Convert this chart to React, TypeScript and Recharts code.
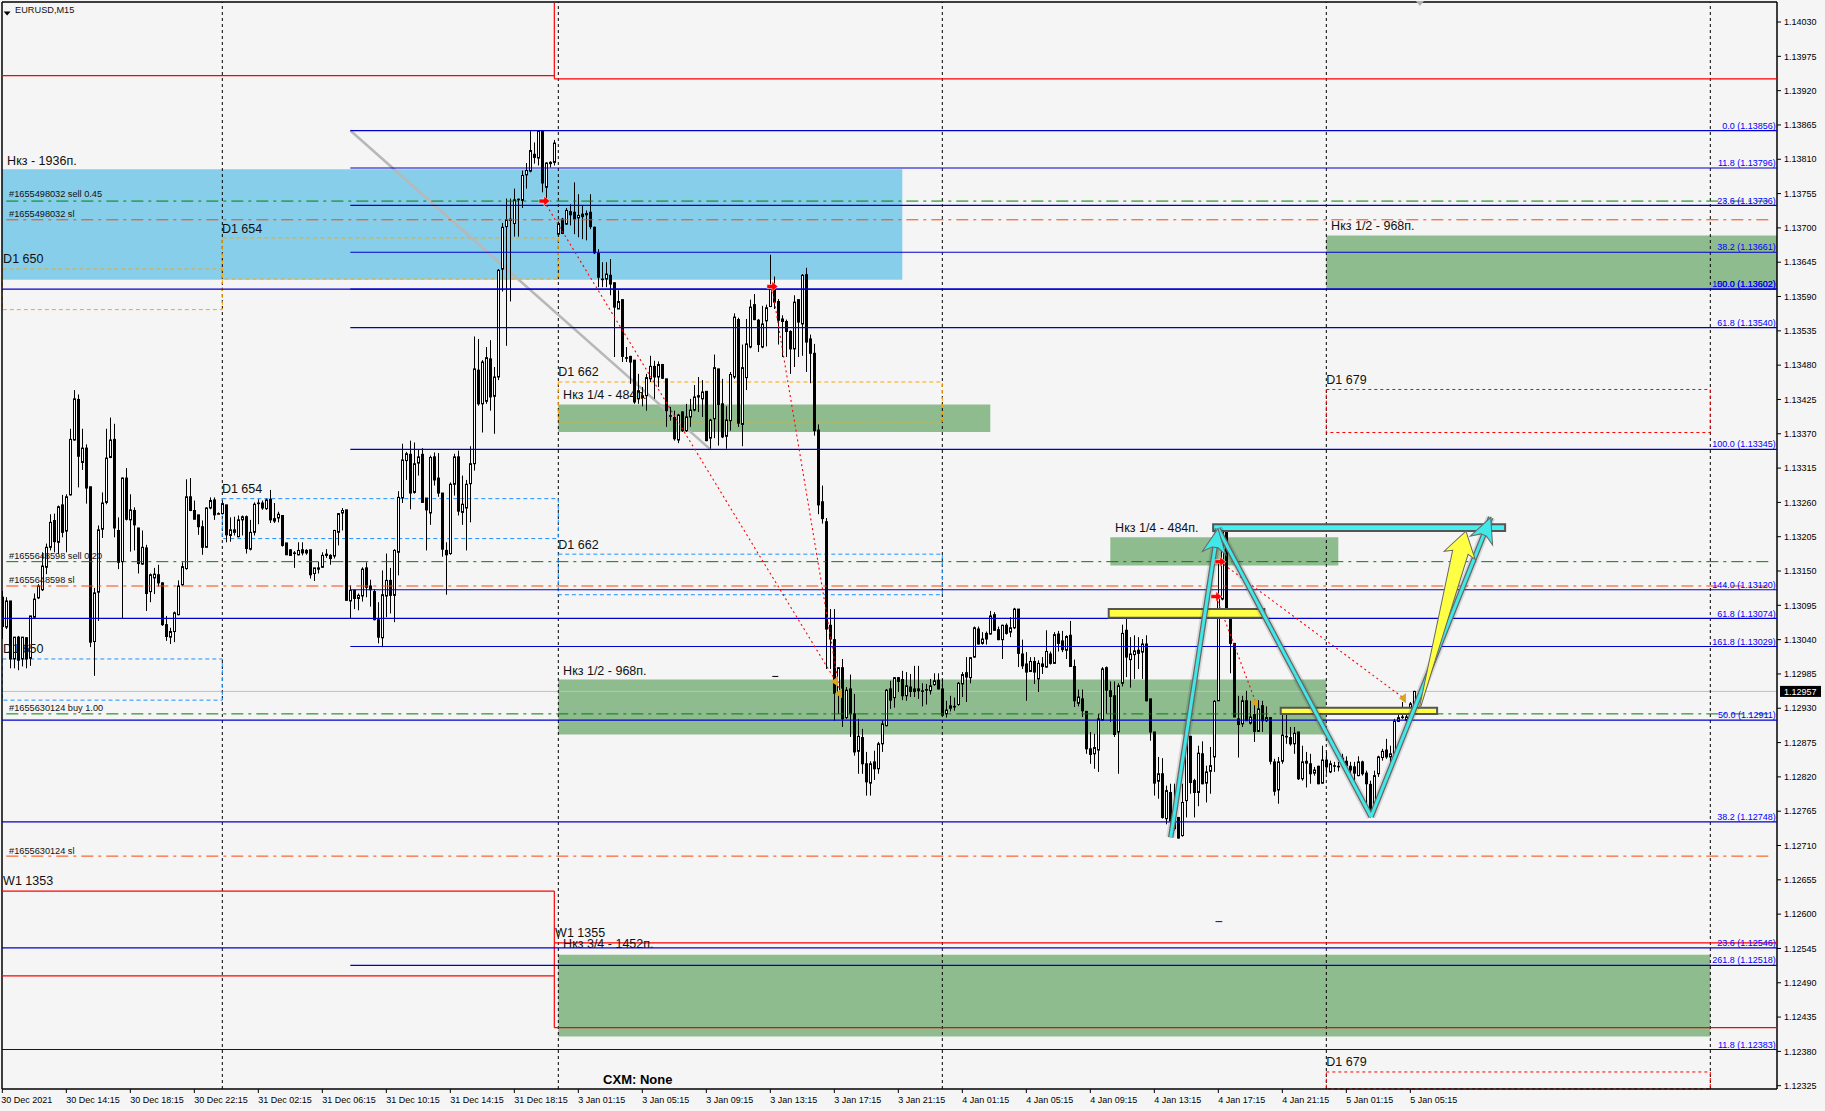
import React from "react";
import { Bar, ComposedChart, ReferenceArea, ReferenceDot, ReferenceLine, XAxis, YAxis } from "recharts";

// EURUSD M15 candles, points above 1.12000
const opens = [
  1108,1060,1102,1009,1044,1009,1043,1010,1076,1107, 1120,1156,1188,1231,1196,1256,1214,1272,1360,1425,
  1324,1347,1285,1037,1116,1217,1260,1332,1361,1215, 1165,1299,1232,1247,1219,1161,1187,1117,1139,1144,
  1131,1064,1044,1053,1080,1128,1154,1269,1247,1240, 1221,1188,1251,1264,1242,1242,1256,1207,1212,1205,
  1232,1237,1185,1212,1258,1259,1250,1265,1230,1235, 1239,1195,1184,1179,1176,1184,1183,1184,1146,1155,
  1156,1177,1175,1174,1212,1243,1248,1102,1119,1106, 1110,1155,1126,1117,1072,1043,1110,1135,1111,1180,
  1267,1327,1337,1276,1323,1337,1267,1243,1333,1299, 1275,1183,1178,1289,1333,1244,1251,1290,1322,1472,
  1418,1422,1490,1430,1461,1634,1702,1712,1707,1746, 1744,1785,1791,1818,1812,1855,1765,1805,1805,1690,
  1714,1706,1726,1725,1716,1722,1721,1725,1701,1659, 1618,1618,1624,1612,1570,1585,1492,1494,1488,1426,
  1428,1431,1458,1478,1461,1481,1458,1399,1396,1360, 1405,1375,1397,1408,1431,1426,1438,1363,1394,1474,
  1418,1366,1391,1461,1553,1385,1460,1509,1577,1552, 1509,1551,1574,1606,1582,1554,1550,1534,1506,1585,
  1546,1625,1522,1499,1376,1261,1229,1063,1040,956, 995,915,961,921,861,883,841,810,844,833,
  873,902,961,947,979,976,950,964,957,961, 958,959,958,968,975,961,921,930,933,936,
  969,987,979,1012,1057,1034,1050,1049,1080,1056, 1040,1063,1052,1059,1089,1017,1001,989,1005,977,
  1001,996,1017,1002,1049,1038,1023,1047,997,938, 945,925,865,857,863,911,995,958,950,892,
  970,1055,1008,1016,1023,1020,1033,945,892,813, 825,753,795,755,755,726,782,885,814,795,
  857,810,829,852,942,1105,1215,1087,1034,913, 905,942,906,920,893,934,910,915,844,799,
  845,885,883,873,892,817,845,841,826,837, 810,847,828,838,837,850,845,837,836,822,
  844,826,808,769,825,851,863,852,858,909, 916,911,916,936,
];
const highs = [
  1118,1108,1102,1044,1046,1044,1044,1078,1114,1129, 1180,1194,1241,1242,1255,1272,1273,1378,1440,1433,
  1378,1353,1285,1123,1223,1276,1378,1396,1386,1236, 1300,1315,1273,1252,1219,1215,1192,1146,1155,1160,
  1132,1078,1059,1085,1135,1164,1297,1299,1263,1240, 1231,1252,1268,1268,1244,1263,1256,1236,1237,1239,
  1239,1239,1232,1260,1265,1263,1266,1280,1259,1245, 1239,1195,1185,1182,1196,1196,1185,1184,1155,1165,
  1180,1185,1177,1216,1243,1251,1248,1127,1120,1114, 1156,1164,1136,1121,1100,1151,1178,1155,1185,1278,
  1354,1341,1359,1356,1344,1347,1267,1335,1340,1339, 1275,1196,1292,1338,1343,1303,1296,1350,1526,1522,
  1488,1509,1520,1477,1634,1708,1747,1747,1763,1747, 1792,1804,1855,1837,1855,1855,1805,1807,1841,1710,
  1716,1732,1738,1773,1754,1736,1728,1754,1702,1666, 1645,1645,1650,1613,1600,1585,1509,1495,1488,1466,
  1445,1466,1495,1487,1486,1482,1458,1413,1407,1402, 1406,1418,1426,1448,1461,1456,1438,1394,1497,1474,
  1458,1414,1469,1563,1556,1513,1554,1585,1594,1554, 1575,1577,1657,1622,1586,1560,1553,1536,1592,1585,
  1626,1636,1529,1514,1385,1287,1235,1089,1089,995, 1009,964,984,953,913,897,860,845,862,876,
  911,961,974,980,980,990,988,985,998,998, 970,969,977,986,986,977,942,950,947,972,
  988,1012,1012,1061,1061,1052,1053,1086,1084,1061, 1064,1066,1076,1091,1089,1040,1020,1012,1012,1007,
  1012,1055,1021,1052,1054,1054,1047,1070,1008,960, 960,925,892,889,921,996,997,973,973,970,
  1064,1076,1044,1047,1044,1041,1047,945,892,852, 850,806,809,809,755,809,894,886,817,870,
  877,838,868,943,1167,1218,1218,1087,1034,950, 950,958,942,942,943,942,933,916,849,852,
  924,926,900,900,892,870,860,857,836,838, 870,860,846,844,844,857,853,844,844,853,
  846,830,814,830,854,865,881,870,913,932, 940,926,940,958,
];
const lows = [
  1041,1057,994,994,991,997,994,998,1073,1105, 1118,1145,1183,1180,1177,1204,1180,1271,1359,1284,
  1312,1258,1028,982,1070,1203,1257,1331,1204,1153, 1073,1231,1181,1183,1146,1160,1086,1100,1113,1125,
  1062,1038,1033,1036,1079,1126,1152,1246,1233,1208, 1176,1188,1249,1232,1241,1241,1196,1197,1207,1204,
  1207,1178,1183,1207,1225,1248,1248,1227,1227,1228, 1189,1176,1174,1155,1175,1175,1176,1138,1134,1146,
  1155,1171,1160,1170,1191,1215,1103,1073,1089,1087, 1101,1108,1093,1071,1034,1028,1076,1082,1068,1143,
  1259,1296,1249,1274,1303,1259,1183,1224,1287,1269, 1173,1112,1176,1271,1239,1224,1183,1228,1311,1415,
  1372,1418,1407,1370,1456,1598,1511,1582,1686,1686, 1732,1763,1789,1803,1800,1757,1746,1797,1800,1688,
  1690,1705,1704,1690,1685,1682,1680,1698,1658,1605, 1605,1605,1592,1493,1570,1485,1485,1450,1418,1418,
  1414,1407,1453,1426,1445,1458,1381,1391,1359,1355, 1373,1373,1381,1406,1405,1397,1358,1346,1363,1351,
  1363,1346,1375,1458,1381,1350,1440,1507,1552,1501, 1507,1510,1573,1570,1513,1493,1493,1466,1477,1493,
  1495,1469,1451,1367,1241,1226,993,993,910,921, 900,913,884,854,825,825,790,790,815,825,
  860,901,929,931,956,943,942,948,948,945, 933,936,952,966,960,916,915,925,926,934,
  948,940,970,1011,1032,1032,1032,1048,1054,1039, 1009,1048,1044,1057,996,993,942,988,969,956,
  985,995,1000,1001,1021,1020,1009,997,932,933, 916,857,841,833,828,910,921,908,884,825,
  965,980,963,977,993,977,941,878,790,785, 753,744,742,734,721,724,755,793,755,773,
  808,779,793,828,942,1103,1087,986,916,851, 900,910,904,876,892,892,908,840,790,777,
  841,873,870,857,815,814,803,809,822,808, 809,825,826,828,829,838,836,824,809,821,
  822,769,755,766,820,846,849,844,856,908, 913,908,913,934,
];
const closes = [
  1061,1102,1009,1044,1007,1044,1009,1078,1105,1126, 1158,1188,1228,1197,1253,1212,1269,1361,1426,1334,
  1347,1283,1036,1115,1216,1259,1331,1360,1219,1164, 1299,1233,1248,1224,1162,1188,1114,1144,1145,1131,
  1064,1045,1053,1083,1126,1157,1269,1247,1233,1221, 1188,1251,1263,1240,1242,1258,1208,1216,1216,1232,
  1237,1186,1212,1257,1259,1251,1264,1232,1234,1241, 1191,1176,1175,1178,1183,1179,1179,1144,1155,1153,
  1175,1175,1170,1215,1242,1247,1103,1119,1106,1111, 1153,1124,1120,1072,1044,1112,1135,1111,1183,1268,
  1328,1338,1275,1322,1333,1260,1248,1332,1296,1275, 1185,1176,1289,1333,1246,1257,1289,1322,1474,1418,
  1485,1492,1429,1461,1632,1701,1713,1714,1745,1745, 1784,1792,1824,1813,1855,1772,1804,1803,1836,1707,
  1691,1728,1721,1714,1720,1718,1723,1702,1660,1621, 1618,1626,1610,1573,1582,1494,1491,1485,1421,1439,
  1431,1460,1478,1461,1481,1459,1407,1399,1362,1400, 1375,1397,1408,1429,1429,1437,1359,1392,1476,1417,
  1365,1392,1465,1557,1387,1476,1514,1573,1553,1513, 1546,1572,1606,1581,1552,1550,1534,1506,1581,1549,
  1624,1517,1499,1375,1256,1234,1057,1041,954,995, 913,959,921,860,885,841,812,841,833,873,
  905,959,943,979,973,950,966,957,961,958, 958,960,966,974,961,919,927,934,933,970,
  984,980,1011,1059,1033,1041,1041,1078,1055,1040, 1063,1050,1059,1089,1018,998,988,1005,988,1002,
  997,1021,1002,1048,1034,1024,1045,997,942,948, 926,865,856,867,913,993,959,949,888,966,
  1050,1012,1017,1022,1018,1033,942,892,810,825, 755,798,750,737,722,779,886,811,795,858,
  809,828,838,941,1108,1215,1087,1034,916,904, 942,910,916,893,929,910,915,845,797,844,
  887,885,873,890,817,844,842,825,831,809, 847,836,841,838,837,842,838,831,826,844,
  825,809,769,822,852,861,852,857,909,915, 916,916,937,957,
];

const priceTicks = [
  1.1403, 1.13975, 1.1392, 1.13865, 1.1381, 1.13755, 1.137, 1.13645, 1.1359, 1.13535, 1.1348, 1.13425,
  1.1337, 1.13315, 1.1326, 1.13205, 1.1315, 1.13095, 1.1304, 1.12985, 1.1293, 1.12875, 1.1282, 1.12765,
  1.1271, 1.12655, 1.126, 1.12545, 1.1249, 1.12435, 1.1238, 1.12325,
];
const timeLabels = [
  "30 Dec 2021", "30 Dec 14:15", "30 Dec 18:15", "30 Dec 22:15", "31 Dec 02:15", "31 Dec 06:15",
  "31 Dec 10:15", "31 Dec 14:15", "31 Dec 18:15", "3 Jan 01:15", "3 Jan 05:15", "3 Jan 09:15",
  "3 Jan 13:15", "3 Jan 17:15", "3 Jan 21:15", "4 Jan 01:15", "4 Jan 05:15", "4 Jan 09:15",
  "4 Jan 13:15", "4 Jan 17:15", "4 Jan 21:15", "5 Jan 01:15", "5 Jan 05:15",
];
const dayBreaks = [55, 139, 235, 331, 427];

const fibFromLeft = [
  ["50.0", 1.13602], ["61.8", 1.13074], ["50.0", 1.12911], ["38.2", 1.12748], ["23.6", 1.12546], ["11.8", 1.12383],
];
const fibFromMid = [
  ["0.0", 1.13856], ["11.8", 1.13796], ["23.6", 1.13736], ["38.2", 1.13661], ["100.0", 1.13602], ["61.8", 1.1354],
  ["100.0", 1.13345], ["144.0", 1.1312], ["161.8", 1.13029], ["261.8", 1.12518],
];

const entryLines = [1.13743, 1.13165, 1.12921];
const stopLines = [1.13713, 1.13126, 1.12693];
const lastPrice = 1.12957;

// x1, x2 in bars, then bottom and top price
const blueZones = [[-0.08, 225, 1.13617, 1.13794]];
const greenZones = [
  [139, 247, 1.13373, 1.13417],
  [139, 331, 1.12888, 1.12976],
  [331, 443.67, 1.13602, 1.13688],
  [139, 427, 1.12404, 1.12535],
  [277, 334, 1.13159, 1.13204],
];
const orangeBoxes = [
  [0, 55, 1.13569, 1.13634],
  [55, 139, 1.13618, 1.13684],
  [139, 235, 1.13387, 1.13453],
];
const blueBoxes = [
  [0, 55, 1.12943, 1.13009],
  [55, 139, 1.13202, 1.13266],
  [139, 235, 1.13112, 1.13177],
];
const redBoxes = [
  [331, 427, 1.13372, 1.13441],
  [331, 427, 1.1232, 1.12347],
];
// weekly levels drawn as solid red steps
const weeklySegments = [
  [-0.08, 1.13944, 138, 1.13944], [138, 1.14061, 138, 1.13939], [138, 1.13939, 443.67, 1.13939],
  [-0.08, 1.12637, 138, 1.12637], [-0.08, 1.12501, 138, 1.12501], [138, 1.12637, 138, 1.12418],
  [138, 1.12554, 443.67, 1.12554], [138, 1.12418, 443.67, 1.12418],
];
const tradePaths = [
  [135.4, 1.13743, 208.4, 1.12973],
  [192.4, 1.13606, 209.4, 1.12954],
  [304.4, 1.13165, 350.4, 1.12946],
  [303.4, 1.13109, 313.4, 1.12939],
];
const entryMarks = [[135.4, 1.13743], [192.4, 1.13606], [304.4, 1.13165], [303.4, 1.13109]];
const exitMarks = [[208.4, 1.12973], [209.4, 1.12954], [313.4, 1.12939], [350.4, 1.12946]];

const zigzag = [
  [292.1, 1.12723], [303.9, 1.13218], [342.2, 1.12756], [372.1, 1.13236],
];
const cyanBoxes = [[302.7, 375.7, 1.13214, 1.13225]];
const yellowBoxes = [[276.6, 315.5, 1.13075, 1.13089], [319.6, 358.7, 1.12921, 1.12931]];

const bigNotes = [
  ["Нкз - 1936п.", 1.2, 1.13801], ["D1 654", 54.9, 1.13692], ["D1 650", 0.2, 1.13643], ["D1 662", 139, 1.13462],
  ["Нкз 1/4 - 484п.", 140.2, 1.13425], ["D1 654", 54.9, 1.13275], ["D1 662", 139, 1.13186], ["D1 650", 0.2, 1.13018],
  ["Нкз 1/2 - 968п.", 140.2, 1.12984], ["W1 1353", 0.2, 1.12647], ["W1 1355", 138.2, 1.12563],
  ["Нкз 3/4 - 1452п.", 140.2, 1.12545], ["D1 679", 331, 1.12356], ["D1 679", 331, 1.13449],
  ["Нкз 1/2 - 968п.", 332.2, 1.13696], ["Нкз 1/4 - 484п.", 278.2, 1.13213],
];
const smallNotes = [
  ["#1655498032 sell 0.45", 1.7, 1.13749], ["#1655498032 sl", 1.7, 1.13718],
  ["#1655648598 sell 0.20", 1.7, 1.13169], ["#1655648598 sl", 1.7, 1.1313],
  ["#1655630124 buy 1.00", 1.7, 1.12925], ["#1655630124 sl", 1.7, 1.12697],
  ["EURUSD,M15", 3.2, 1.14044],
];

const xMin = -0.08;
const xMax = 443.67;
const yMin = 1.123197;
const yMax = 1.140621;
const font = "Liberation Sans";

const candles = opens.map((o, i) => ({
  bar: i,
  open: 1.12 + o / 100000,
  high: 1.12 + highs[i] / 100000,
  low: 1.12 + lows[i] / 100000,
  close: 1.12 + closes[i] / 100000,
}));

function Candle(props: any) {
  const { x, y, width, height, payload } = props;
  const cx = Math.round(x + width / 2) + 0.5;
  const perPrice = height / (payload.high - payload.low || 1);
  const top = y + (payload.high - Math.max(payload.open, payload.close)) * perPrice;
  const bottom = y + (payload.high - Math.min(payload.open, payload.close)) * perPrice;
  const up = payload.close >= payload.open;
  return (
    <g>
      <line x1={cx} x2={cx} y1={y} y2={y + height} stroke="#000" strokeWidth={1} />
      <rect x={cx - 1} y={top} width={2} height={Math.max(bottom - top, 0.6)} fill={up ? "#fff" : "#000"} stroke="#000" strokeWidth={1} />
    </g>
  );
}

function noteDot(key: string, text: string, bar: number, price: number, size: number, opts: any = {}) {
  return (
    <ReferenceDot
      key={key}
      x={bar}
      y={price}
      r={0}
      zIndex={opts.zIndex ?? 2000}
      shape={(p: any) => (
        <text x={p.cx} y={p.cy} fontFamily={font} fontSize={size} fill={opts.fill || "#111"} fontWeight={opts.weight} textAnchor={opts.anchor || "start"}>
          {text}
        </text>
      )}
    />
  );
}

function polyDot(key: string, bar: number, price: number, points: string, fill: string, rotate = 0, stroke = "none", strokeWidth = 1) {
  return (
    <ReferenceDot
      key={key}
      x={bar}
      y={price}
      r={0}
      zIndex={1500}
      shape={(p: any) => (
        <polygon transform={`translate(${p.cx} ${p.cy}) rotate(${rotate})`} points={points} fill={fill} stroke={stroke} strokeWidth={strokeWidth} />
      )}
    />
  );
}

function seg(key: string, x1: number, y1: number, x2: number, y2: number, stroke: string, width: number, dash?: string, zIndex = 500, opacity = 1) {
  return (
    <ReferenceLine
      key={key}
      segment={[{ x: x1, y: y1 }, { x: x2, y: y2 }]}
      stroke={stroke}
      strokeWidth={width}
      strokeDasharray={dash}
      strokeOpacity={opacity}
      zIndex={zIndex}
    />
  );
}

function TimeTick(props: any) {
  const { x, y, payload } = props;
  return (
    <g>
      <line x1={x} x2={x} y1={y - 8} y2={y - 4} stroke="#000" />
      <text x={payload.value === 0 ? x - 1 : x} y={y + 5.5} fontFamily={font} fontSize={9} fill="#000">
        {timeLabels[payload.value / 16]}
      </text>
    </g>
  );
}

export default function App() {
  return (
    <div style={{ position: "fixed", left: 0, top: 0, width: 1825, height: 1111, background: "#f5f5f5", overflow: "hidden" }}>
      <ComposedChart width={1825} height={1111} data={candles} margin={{ left: 2, top: 2, right: 0, bottom: 0 }} barSize={3}>
        <XAxis
          dataKey="bar"
          type="number"
          domain={[xMin, xMax]}
          allowDataOverflow
          ticks={timeLabels.map((_, i) => i * 16)}
          interval={0}
          height={22}
          tick={TimeTick}
          tickLine={false}
          axisLine={{ stroke: "#000", strokeWidth: 1.5 }}
        />
        <YAxis
          orientation="right"
          type="number"
          domain={[yMin, yMax]}
          allowDataOverflow
          ticks={priceTicks}
          interval={0}
          width={48}
          tickSize={4}
          tickMargin={3}
          tickFormatter={(v: number) => v.toFixed(5)}
          tick={{ fontSize: 9, fill: "#000", fontFamily: font }}
          tickLine={{ stroke: "#000" }}
          axisLine={{ stroke: "#000", strokeWidth: 1.5 }}
        />

        {blueZones.map((z, i) => (
          <ReferenceArea key={"bz" + i} x1={z[0]} x2={z[1]} y1={z[2]} y2={z[3]} fill="#87ceeb" fillOpacity={1} zIndex={50} />
        ))}
        {greenZones.map((z, i) => (
          <ReferenceArea key={"gz" + i} x1={z[0]} x2={z[1]} y1={z[2]} y2={z[3]} fill="#8fbc8f" fillOpacity={1} zIndex={50} />
        ))}
        {seg("price", xMin, lastPrice, xMax, lastPrice, "#c0c0c0", 1, undefined, 60)}
        {dayBreaks.map((b) => (
          <ReferenceLine key={"day" + b} x={b} stroke="#000" strokeWidth={1} strokeDasharray="3 3" zIndex={70} />
        ))}
        {orangeBoxes.map((z, i) => (
          <ReferenceArea key={"ob" + i} x1={z[0]} x2={z[1]} y1={z[2]} y2={z[3]} fill="none" stroke="#ffa500" strokeDasharray="4 3" zIndex={80} />
        ))}
        {blueBoxes.map((z, i) => (
          <ReferenceArea key={"lb" + i} x1={z[0]} x2={z[1]} y1={z[2]} y2={z[3]} fill="none" stroke="#1e90ff" strokeDasharray="4 3" zIndex={80} />
        ))}
        {redBoxes.map((z, i) => (
          <ReferenceArea key={"rb" + i} x1={z[0]} x2={z[1]} y1={z[2]} y2={z[3]} fill="none" stroke="#ff0000" strokeDasharray="3 3" zIndex={80} />
        ))}
        {seg("trend", 87, 1.13856, 177, 1.13345, "#b8b8b8", 2.6, undefined, 90)}

        <Bar dataKey={(d: any) => [d.low, d.high]} shape={Candle} isAnimationActive={false} zIndex={300} />

        {weeklySegments.map((s, i) => seg("w" + i, s[0], s[1], s[2], s[3], "#ff0000", 1.2))}
        {entryLines.map((p) => seg("en" + p, 1, p, 442.7, p, "#008000", 1, "12 5 3 5"))}
        {stopLines.map((p) => seg("st" + p, 1, p, 442.7, p, "#ff4500", 1, "12 5 3 5"))}
        {fibFromLeft.map((f) => seg("fl" + f[1], xMin, f[1] as number, xMax, f[1] as number, "#0000cd", 1.2))}
        {fibFromMid.map((f) => seg("fm" + f[1], 87, f[1] as number, xMax, f[1] as number, "#0000cd", 1.2))}
        {seg("dash1", 192.5, 1.12981, 194, 1.12981, "#000", 1)}
        {seg("dash2", 303.3, 1.12588, 305, 1.12588, "#0000cd", 1)}
        {tradePaths.map((t, i) => seg("tp" + i, t[0], t[1], t[2], t[3], "#ff0000", 1.1, "2 3", 600))}
        {exitMarks.map((m, i) => polyDot("ex" + i, m[0], m[1], "-5,0 2,-5 2,5", "#daa520"))}
        {entryMarks.map((m, i) => polyDot("en" + i, m[0], m[1], "-5,-2 0,-2 0,-5 6,0 0,5 0,2 -5,2", "#ff0000", 0, "#fff", 0.5))}

        {yellowBoxes.map((z, i) => (
          <ReferenceArea key={"yb" + i} x1={z[0]} x2={z[1]} y1={z[2]} y2={z[3]} fill="#ffff44" fillOpacity={1} stroke="#555" strokeWidth={2} zIndex={700} />
        ))}
        {cyanBoxes.map((z, i) => (
          <ReferenceArea key={"cb" + i} x1={z[0]} x2={z[1]} y1={z[2]} y2={z[3]} fill="#44f0f0" fillOpacity={1} stroke="#555" strokeWidth={2} zIndex={700} />
        ))}
        {polyDot("yArrow", 365.9, 1.13214, "0,0 16,25 8,22 0.5,183 -0.5,183 -8,22 -16,25", "#ffff44", 14.6, "#666")}
        {zigzag.slice(1).map((p, i) => seg("zs" + i, zigzag[i][0], zigzag[i][1], p[0], p[1], "#000", 9, undefined, 800, 0.12))}
        {zigzag.slice(1).map((p, i) => seg("zb" + i, zigzag[i][0], zigzag[i][1], p[0], p[1], "#666", 5.5, undefined, 810))}
        {zigzag.slice(1).map((p, i) => seg("zc" + i, zigzag[i][0], zigzag[i][1], p[0], p[1], "#40e8e8", 3, undefined, 820))}
        {polyDot("head1", 303.9, 1.13218, "0,0 12,25 3,19 -3,19 -12,25", "#40e8e8", 8.7, "#666")}
        {polyDot("head3", 372.1, 1.13236, "0,0 12,25 3,19 -3,19 -12,25", "#40e8e8", 21.8, "#666")}
        {polyDot("topMark", 354.4, 1.14059, "-4,-3 4,-3 0,2", "#b0b0b0")}
        {polyDot("menu", 1.2, 1.14047, "-3.5,0 3.5,0 0,4", "#000")}

        {bigNotes.map((n, i) => noteDot("bn" + i, n[0] as string, n[1] as number, n[2] as number, 12.5))}
        {smallNotes.map((n, i) => noteDot("sn" + i, n[0] as string, n[1] as number, n[2] as number, 9.2))}
        {noteDot("cxm", "CXM: None", 150.2, 1.12327, 13, { weight: "bold", fill: "#000" })}
        {[...fibFromLeft, ...fibFromMid].map((f) =>
          noteDot("fn" + f[0] + f[1], `${f[0]} (${(f[1] as number).toFixed(5)})`, xMax - 0.3, (f[1] as number) + 0.00003, 9, { fill: "#0000ff", anchor: "end" }),
        )}
        <ReferenceLine x={xMin} stroke="#000" strokeWidth={1.5} />
        <ReferenceLine y={yMax} stroke="#000" strokeWidth={1.5} />
        <ReferenceDot
          x={xMax}
          y={lastPrice}
          r={0}
          zIndex={2000}
          shape={(p: any) => (
            <g>
              <rect x={p.cx + 3} y={p.cy - 5.5} width={41} height={11} fill="#000" />
              <text x={p.cx + 7} y={p.cy + 3.5} fontFamily={font} fontSize={9} fill="#fff">
                {lastPrice.toFixed(5)}
              </text>
            </g>
          )}
        />
      </ComposedChart>
    </div>
  );
}
